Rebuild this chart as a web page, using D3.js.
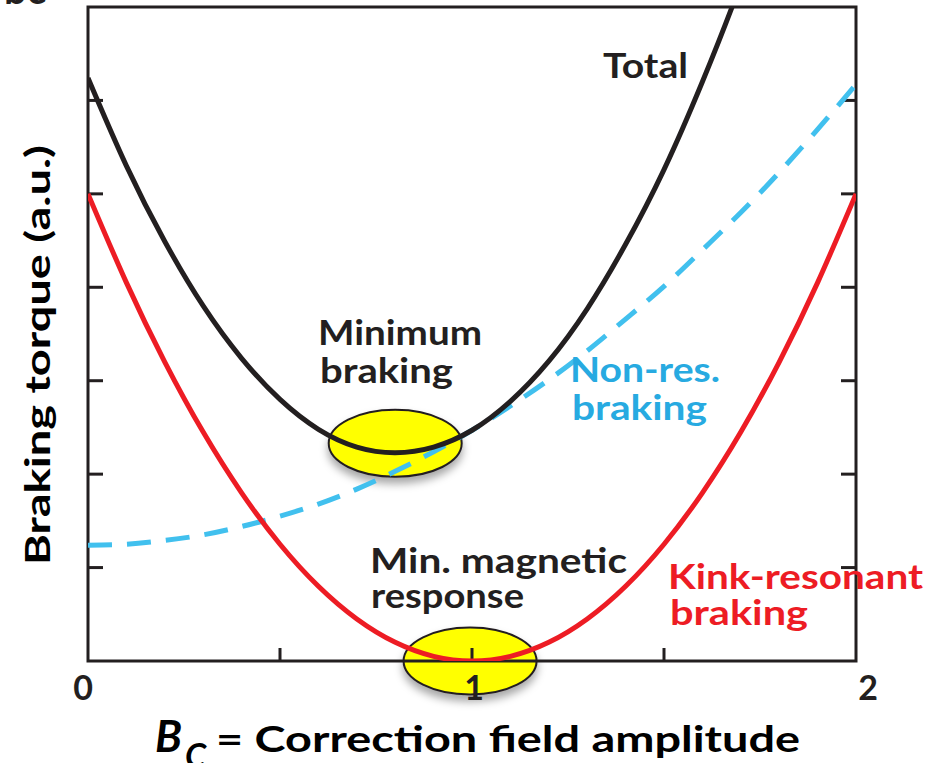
<!DOCTYPE html>
<html>
<head>
<meta charset="utf-8">
<script src="https://cdn.jsdelivr.net/npm/d3@7"></script>
<style>
  body { margin: 0; background: #fff; }
  svg text { font-family: Lato, "DejaVu Sans", sans-serif; font-weight: 700; }
</style>
</head>
<body>
<svg id="chart"></svg>
<script>
// field amplitude samples and the three torque curves
var bc     = [0, 0.1, 0.2, 0.3, 0.4, 0.5, 0.6, 0.7, 0.8, 0.9, 1.0, 1.1, 1.2, 1.3, 1.4, 1.5, 1.6, 1.7, 1.8, 1.9, 2.0];
var kink   = [5.00, 4.05, 3.20, 2.45, 1.80, 1.25, 0.80, 0.45, 0.20, 0.05, 0.00, 0.05, 0.20, 0.45, 0.80, 1.25, 1.80, 2.45, 3.20, 4.05, 5.00];
var nonres = [1.24, 1.25, 1.29, 1.35, 1.44, 1.55, 1.68, 1.84, 2.03, 2.24, 2.47, 2.73, 3.01, 3.32, 3.66, 4.01, 4.40, 4.80, 5.23, 5.69, 6.17];
var total  = [6.24, 5.30, 4.49, 3.80, 3.24, 2.80, 2.48, 2.29, 2.23, 2.29, 2.47, 2.78, 3.21, 3.77, 4.46, 5.26, 6.20, 7.25, 8.43, 9.70, 11.1];

var xTicks      = [0, 1, 2];
var xMinorTicks = [0.5, 1.5];
var yTicks      = [1, 2, 3, 4, 5, 6];

// highlighted regions (centre in data units)
var spots = [{x: 0.80, y: 2.33}, {x: 0.995, y: 0.0}];

(function () {
var width = 934, height = 763;
var mLeft = 88, mRight = 856, mTop = 7, mBottom = 661;

var svg = d3.select("#chart").attr("width", width).attr("height", height);

var x = d3.scaleLinear().domain([0, 2]).range([mLeft, mRight]);
var y = d3.scaleLinear().domain([0, 7]).range([mBottom, mTop]);

var defs = svg.append("defs");
defs.append("clipPath").attr("id", "plot")
    .append("rect").attr("x", mLeft).attr("y", mTop)
    .attr("width", mRight - mLeft).attr("height", mBottom - mTop);
defs.append("filter").attr("id", "shadow")
    .attr("x", "-20%").attr("y", "-30%").attr("width", "140%").attr("height", "180%")
    .append("feDropShadow")
    .attr("dx", 0).attr("dy", 6).attr("stdDeviation", 4)
    .attr("flood-color", "#000").attr("flood-opacity", 0.35);

// partial panel letter cut off at the top
svg.append("text").attr("x", 46).attr("y", 4).attr("text-anchor", "end")
   .attr("font-size", 40).attr("fill", "#231f20").text("bc");

// yellow ellipses
svg.append("g").selectAll("ellipse")
   .data(spots).enter().append("ellipse")
   .attr("cx", function (d) { return x(d.x); })
   .attr("cy", function (d) { return y(d.y); })
   .attr("rx", 66.5)
   .attr("ry", 33.5)
   .attr("fill", "#ffff00")
   .attr("stroke", "#231f20")
   .attr("stroke-width", 2)
   .attr("filter", "url(#shadow)");

// frame and inward ticks
var axisColor = "#231f20";
var frame = svg.append("g").attr("stroke", axisColor).attr("stroke-width", 3).attr("fill", "none");
frame.append("rect").attr("x", mLeft).attr("y", mTop).attr("width", mRight - mLeft).attr("height", mBottom - mTop);

frame.selectAll("line.yl").data(yTicks).enter().append("line")
   .attr("x1", mLeft).attr("x2", mLeft + 15)
   .attr("y1", function (d) { return y(d); }).attr("y2", function (d) { return y(d); });
frame.selectAll("line.yr").data(yTicks).enter().append("line")
   .attr("x1", mRight - 15).attr("x2", mRight)
   .attr("y1", function (d) { return y(d); }).attr("y2", function (d) { return y(d); });
frame.selectAll("line.xb").data(xMinorTicks.concat([1])).enter().append("line")
   .attr("x1", function (d) { return x(d); }).attr("x2", function (d) { return x(d); })
   .attr("y1", mBottom).attr("y2", mBottom - 13);

// curves
var line = d3.line()
    .x(function (d) { return x(d[0]); })
    .y(function (d) { return y(d[1]); })
    .curve(d3.curveNatural);

var curves = svg.append("g").attr("clip-path", "url(#plot)").attr("fill", "none");

curves.append("path")
   .attr("d", line(d3.zip(bc, nonres)))
   .attr("stroke", "#41c0ee").attr("stroke-width", 5)
   .attr("stroke-dasharray", "24,15");

curves.append("path")
   .attr("d", line(d3.zip(bc, kink)))
   .attr("stroke", "#ed1c24").attr("stroke-width", 5);

curves.append("path")
   .attr("d", line(d3.zip(bc, total)))
   .attr("stroke", "#231f20").attr("stroke-width", 5);

// tick labels
svg.append("g").selectAll("text")
   .data(xTicks).enter().append("text")
   .attr("x", function (d, i) { return x(d) + [-5, 2, 12][i]; })
   .attr("y", 700)
   .attr("text-anchor", "middle")
   .attr("font-size", 34)
   .attr("fill", axisColor)
   .text(function (d) { return d; });

// annotations: text, left x, baseline, width, colour
var notes = [
  ["Total",         603, 78,  85,  "#231f20"],
  ["Minimum",       318, 345, 164, "#231f20"],
  ["braking",       320, 383, 133, "#231f20"],
  ["Non-res.",      570, 382, 150, "#27aae1"],
  ["braking",       572, 420, 135, "#27aae1"],
  ["Min. magnetic", 370, 573, 257, "#231f20"],
  ["response",      371, 608, 153, "#231f20"],
  ["Kink-resonant", 668, 589, 255, "#ed1c24"],
  ["braking",       670, 625, 138, "#ed1c24"]
];

svg.append("g").selectAll("text")
   .data(notes).enter().append("text")
   .attr("x", function (d) { return d[1]; })
   .attr("y", function (d) { return d[2]; })
   .attr("textLength", function (d) { return d[3]; })
   .attr("lengthAdjust", "spacingAndGlyphs")
   .attr("font-size", 35)
   .attr("fill", function (d) { return d[4]; })
   .text(function (d) { return d[0]; });

// y axis title
svg.append("text")
   .attr("transform", "translate(50,355) rotate(-90)")
   .attr("text-anchor", "middle")
   .attr("font-size", 34)
   .attr("textLength", 420)
   .attr("lengthAdjust", "spacingAndGlyphs")
   .attr("fill", "#000")
   .text("Braking torque (a.u.)");

// x axis title
var xt = svg.append("g");
xt.append("text")
   .attr("x", 155).attr("y", 752)
   .attr("font-family", "'Liberation Serif', 'DejaVu Serif', serif")
   .attr("font-style", "italic")
   .attr("font-size", 44)
   .attr("fill", "#000")
   .text("B");
xt.append("text")
   .attr("x", 185).attr("y", 768)
   .attr("font-family", "'Liberation Serif', 'DejaVu Serif', serif")
   .attr("font-style", "italic")
   .attr("font-size", 34)
   .attr("fill", "#000")
   .text("C");
xt.append("text")
   .attr("x", 216).attr("y", 752)
   .attr("font-size", 36)
   .attr("textLength", 584)
   .attr("lengthAdjust", "spacingAndGlyphs")
   .attr("fill", "#000")
   .text("= Correction field amplitude");
})();
</script>
</body>
</html>
